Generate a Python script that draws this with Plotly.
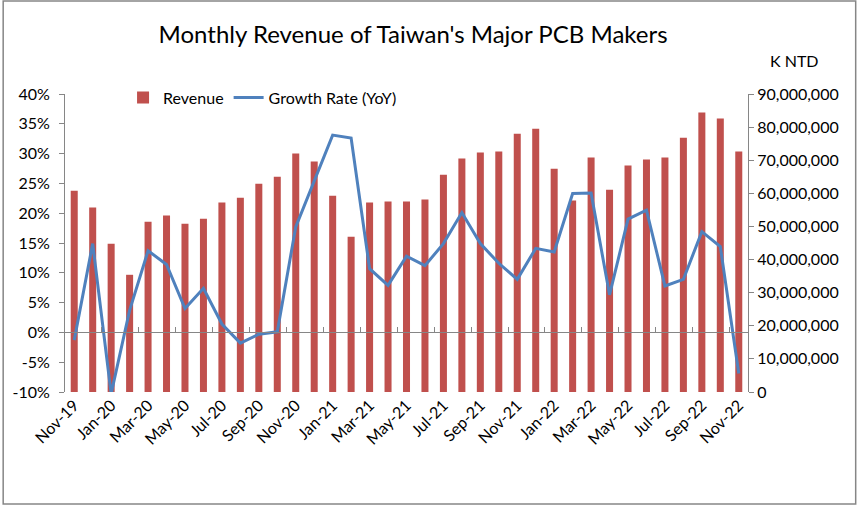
import plotly.graph_objects as go

months = [
    "Nov-19", "Dec-19", "Jan-20", "Feb-20", "Mar-20", "Apr-20", "May-20", "Jun-20",
    "Jul-20", "Aug-20", "Sep-20", "Oct-20", "Nov-20", "Dec-20", "Jan-21", "Feb-21",
    "Mar-21", "Apr-21", "May-21", "Jun-21", "Jul-21", "Aug-21", "Sep-21", "Oct-21",
    "Nov-21", "Dec-21", "Jan-22", "Feb-22", "Mar-22", "Apr-22", "May-22", "Jun-22",
    "Jul-22", "Aug-22", "Sep-22", "Oct-22", "Nov-22",
]

# K NTD
revenue = [
    60.8e6, 55.7e6, 44.8e6, 35.4e6, 51.4e6, 53.3e6, 50.8e6, 52.3e6,
    57.2e6, 58.7e6, 62.9e6, 65.0e6, 72.0e6, 69.6e6, 59.3e6, 46.9e6,
    57.2e6, 57.5e6, 57.5e6, 58.1e6, 65.6e6, 70.5e6, 72.3e6, 72.6e6,
    78.0e6, 79.5e6, 67.4e6, 57.8e6, 70.8e6, 61.1e6, 68.4e6, 70.2e6,
    70.8e6, 76.8e6, 84.4e6, 82.6e6, 72.6e6,
]

# percent
growth = [
    -1.3, 14.9, -10.3, 3.7, 13.7, 11.4, 4.0, 7.4,
    1.4, -1.8, -0.3, 0.1, 17.7, 25.5, 33.1, 32.6,
    10.7, 7.9, 12.8, 11.2, 14.9, 20.1, 14.9, 11.6,
    8.9, 14.1, 13.5, 23.3, 23.4, 6.3, 19.0, 20.5,
    7.8, 8.9, 16.9, 14.4, -6.9,
]

pct_ticks = list(range(-10, 45, 5))
pct_labels = [f"{v}%" for v in pct_ticks]
rev_ticks = [i * 10_000_000 for i in range(10)]

font = "Lato, 'Open Sans', sans-serif"
grey = "#868686"

W, H = 857, 505
L, R, T, B = 63, 109, 94, 113
pw, ph = W - L - R, H - T - B

fig = go.Figure()

fig.add_trace(go.Bar(
    x=months, y=revenue, name="Revenue",
    marker=dict(color="#C0504D", line=dict(width=0)),
    yaxis="y",
))
fig.add_trace(go.Scatter(
    x=months, y=growth, name="Growth Rate (YoY)",
    mode="lines", line=dict(color="#4F81BD", width=3),
    yaxis="y2",
))
# carries the zero-line axis with its tick marks
fig.add_trace(go.Scatter(
    x=[0, len(months) - 1], y=[0, 0], xaxis="x2", yaxis="y2",
    mode="lines", line=dict(width=0), showlegend=False, hoverinfo="skip",
))

fig.update_layout(
    width=W, height=H,
    paper_bgcolor="white", plot_bgcolor="rgba(0,0,0,0)",
    margin=dict(l=L, r=R, t=T, b=B),
    font=dict(family=font, size=15, color="#000000"),
    title=dict(
        text="Monthly Revenue of Taiwan's Major PCB Makers",
        x=0.482, xanchor="center", y=0.932, yanchor="middle",
        font=dict(family=font, size=24, color="#000000"),
    ),
    bargap=0.62,
    showlegend=True,
    legend=dict(
        orientation="h", x=0.085, y=1.045, xanchor="left", yanchor="top",
        bgcolor="rgba(0,0,0,0)", font=dict(size=16),
        itemwidth=30, tracegroupgap=0,
    ),
    xaxis=dict(
        type="category", tickmode="array", tickvals=months[::2],
        tickangle=-45, ticks="", showline=False, showgrid=False,
        tickfont=dict(size=16), range=[-0.5, len(months) - 0.5],
    ),
    xaxis2=dict(
        overlaying="x", anchor="free", position=0.2,
        range=[-0.5, len(months) - 0.5],
        tickmode="array", tickvals=[k - 0.5 for k in range(0, len(months), 2)],
        ticks="inside", ticklen=5, tickcolor=grey,
        showticklabels=False, showline=True, linecolor=grey, linewidth=1,
        showgrid=False, zeroline=False,
    ),
    yaxis=dict(
        side="right", range=[0, 90_000_000], tickmode="array",
        tickvals=rev_ticks, tickformat=",d",
        showline=True, linecolor=grey, ticks="outside", ticklen=5, tickcolor=grey,
        showgrid=False, zeroline=False, tickfont=dict(size=16),
    ),
    yaxis2=dict(
        side="left", overlaying="y", range=[-10, 40], tickmode="array",
        tickvals=pct_ticks, ticktext=pct_labels, ticklabelstandoff=6,
        showline=True, linecolor=grey, ticks="outside", ticklen=5, tickcolor=grey,
        showgrid=False, zeroline=False, tickfont=dict(size=16),
    ),
    annotations=[dict(
        text="K NTD", xref="paper", yref="paper", x=(795 - L) / pw, y=(T + ph - 60) / ph,
        xanchor="center", yanchor="middle", showarrow=False,
        font=dict(family=font, size=16),
    )],
    shapes=[dict(
        type="rect", xref="paper", yref="paper",
        x0=(1 - L) / pw, x1=(W - 1 - L) / pw,
        y0=(T + ph - (H - 1)) / ph, y1=(T + ph - 1) / ph,
        line=dict(color=grey, width=1.5), layer="above",
    )],
)

fig.write_html(
    "out.html",
    config={"displayModeBar": False},
    post_script="document.body.style.margin='0';",
)
